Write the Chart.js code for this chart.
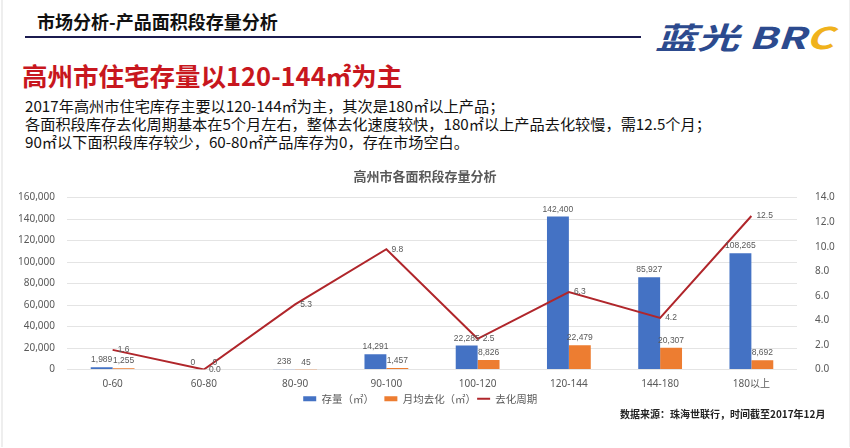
<!DOCTYPE html>
<html>
<head>
<meta charset="utf-8">
<script src="https://cdn.jsdelivr.net/npm/chart.js@4.4.0/dist/chart.umd.min.js"></script>
<style>
    html, body {
        margin: 0;
        padding: 0;
        background: #fff;
    }
    body {
        width: 850px;
        height: 448px;
        position: relative;
        overflow: hidden;
        font-family: "Noto Sans CJK SC", "Noto Sans", sans-serif;
    }
    .frame {
        position: absolute;
        left: 1px; top: 0; width: 846px; height: 447px;
        border-left: 2px solid #eeeeee;
        border-right: 2px solid #eeeeee;
    }
    .header {
        position: absolute;
        left: 37px; top: 8px;
        font-size: 18px;
        font-weight: bold;
        color: #111;
    }
    .rule {
        position: absolute;
        left: 25px; top: 36px;
        width: 616px; height: 2px;
        background: #1b1b4f;
    }
    .logo {
        position: absolute;
        left: 655px; top: 14px;
        font-size: 30px;
        font-weight: bold;
        font-style: italic;
        color: #2c4a8e;
        white-space: nowrap;
        transform: scaleX(1.4);
        transform-origin: left center;
    }
    .logo .c {
        color: #f0b21c;
    }
    .title {
        position: absolute;
        left: 22px; top: 56px;
        font-size: 25.5px;
        font-weight: bold;
        color: #c8171e;
        white-space: nowrap;
    }
    .desc {
        position: absolute;
        left: 25px; top: 96px;
        font-size: 15.2px;
        line-height: 18px;
        color: #111;
        white-space: nowrap;
    }
    .source {
        position: absolute;
        left: 620px; top: 406px;
        font-size: 10px;
        font-weight: bold;
        color: #222;
        white-space: nowrap;
    }
    #chartBox {
        position: absolute;
        left: 0; top: 163px;
        width: 850px; height: 251px;
    }
</style>
</head>
<body>
<div class="frame"></div>
<div class="header">市场分析-产品面积段存量分析</div>
<div class="rule"></div>
<div class="logo">蓝光 BR<span class="c">C</span></div>
<div class="title">高州市住宅存量以120-144㎡为主</div>
<div class="desc">
    2017年高州市住宅库存主要以120-144㎡为主，其次是180㎡以上产品；<br>
    各面积段库存去化周期基本在5个月左右，整体去化速度较快，180㎡以上产品去化较慢，需12.5个月；<br>
    90㎡以下面积段库存较少，60-80㎡产品库存为0，存在市场空白。
</div>
<div id="chartBox"><canvas id="mainChart"></canvas></div>
<div class="source">数据来源：珠海世联行，时间截至2017年12月</div>

<script>
const categories = ['0-60', '60-80', '80-90', '90-100', '100-120', '120-144', '144-180', '180以上'];
const stockArea = [1989, 0, 238, 14291, 22285, 142400, 85927, 108265];
const monthlySales = [1255, 0, 45, 1457, 8826, 22479, 20307, 8692];
const sellCycle = [1.6, 0.0, 5.3, 9.8, 2.5, 6.3, 4.2, 12.5];

const labelFont = '8.5px "Liberation Sans", "Noto Sans", sans-serif';

// draws the value labels, since there is no datalabels plugin here
const valueLabels = {
    id: 'valueLabels',
    afterDatasetsDraw(chart) {
        const ctx = chart.ctx;
        ctx.save();
        ctx.font = labelFont;
        ctx.fillStyle = '#595959';
        chart.data.datasets.forEach((ds, i) => {
            const meta = chart.getDatasetMeta(i);
            meta.data.forEach((el, idx) => {
                const v = ds.data[idx];
                if (ds.type === 'line') {
                    ctx.textAlign = 'left';
                    ctx.textBaseline = 'middle';
                    ctx.fillText(v.toFixed(1), el.x + 5, el.y);
                } else {
                    ctx.textAlign = 'center';
                    ctx.textBaseline = 'bottom';
                    ctx.fillText(v.toLocaleString('en-US'), el.x, el.y - 3);
                }
            });
        });
        ctx.restore();
    }
};

const ctx = document.getElementById('mainChart').getContext('2d');
new Chart(ctx, {
    data: {
        labels: categories,
        datasets: [
            {
                type: 'bar',
                label: '存量（㎡）',
                data: stockArea,
                backgroundColor: '#4472c4',
                yAxisID: 'y',
                categoryPercentage: 0.48,
                barPercentage: 1,
                pointStyle: 'rect',
                order: 1
            },
            {
                type: 'bar',
                label: '月均去化（㎡）',
                data: monthlySales,
                backgroundColor: '#ed7d31',
                yAxisID: 'y',
                categoryPercentage: 0.48,
                barPercentage: 1,
                pointStyle: 'rect',
                order: 1
            },
            {
                type: 'line',
                label: '去化周期',
                data: sellCycle,
                borderColor: '#b0262b',
                backgroundColor: '#b0262b',
                borderWidth: 2,
                pointRadius: 0,
                pointStyle: 'line',
                tension: 0,
                yAxisID: 'y1',
                order: 0
            }
        ]
    },
    options: {
        responsive: true,
        maintainAspectRatio: false,
        animation: false,
        layout: {
            padding: { left: 0, right: 0, top: 0, bottom: 0 }
        },
        plugins: {
            title: {
                display: true,
                text: '高州市各面积段存量分析',
                color: '#595959',
                font: { size: 13, weight: 'bold', family: '"Noto Sans CJK SC", sans-serif' },
                padding: { top: 5, bottom: 14 }
            },
            legend: {
                position: 'bottom',
                labels: {
                    usePointStyle: true,
                    pointStyleWidth: 13,
                    boxHeight: 5,
                    color: '#595959',
                    padding: 1,
                    font: { size: 10.5, family: '"Noto Sans CJK SC", sans-serif' },
                    sort: (a, b) => a.datasetIndex - b.datasetIndex,
                    // extra gap between items, since padding is kept small
                    generateLabels: function(chart) {
                        const items = Chart.defaults.plugins.legend.labels.generateLabels(chart);
                        return items.map((item, i) => {
                            item.text = i < items.length - 1 ? item.text + '    ' : item.text;
                            return item;
                        });
                    }
                }
            },
            tooltip: { enabled: false }
        },
        scales: {
            x: {
                afterFit: function(scale) { scale.height = 23; },
                grid: { display: false },
                border: { display: false },
                ticks: {
                    color: '#595959',
                    font: { size: 10, family: '"Noto Sans", "Noto Sans CJK SC", sans-serif' },
                    padding: 1
                }
            },
            y: {
                position: 'left',
                min: 0,
                max: 160000,
                afterFit: function(scale) { scale.width = 67; },
                grid: { color: '#e4e4e4', drawTicks: false },
                border: { display: false },
                ticks: {
                    stepSize: 20000,
                    color: '#595959',
                    padding: 12,
                    font: { size: 10, family: '"Noto Sans", sans-serif' },
                    callback: function(value) {
                        return value.toLocaleString('en-US');
                    }
                }
            },
            y1: {
                position: 'right',
                min: 0,
                max: 14,
                afterFit: function(scale) { scale.width = 53; },
                grid: { display: false },
                border: { display: false },
                ticks: {
                    stepSize: 2,
                    color: '#595959',
                    padding: 10,
                    font: { size: 10, family: '"Noto Sans", sans-serif' },
                    callback: function(value) {
                        return value.toFixed(1);
                    }
                }
            }
        }
    },
    plugins: [valueLabels]
});
</script>
</body>
</html>
